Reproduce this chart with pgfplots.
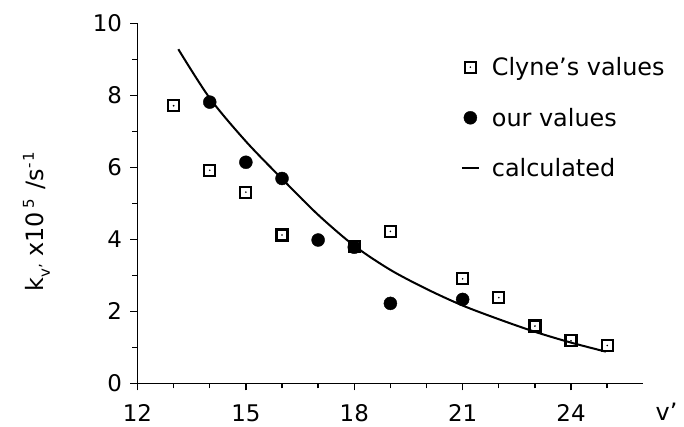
\documentclass[border=0pt]{standalone}
\usepackage{fontspec}
\setmainfont{DejaVu Sans}
\usepackage{pgfplots}
\pgfplotsset{compat=1.18}

\pgfdeclareplotmark{dotsquare}{%
  \pgfpathrectangle{\pgfqpoint{-\pgfplotmarksize}{-\pgfplotmarksize}}{\pgfqpoint{2\pgfplotmarksize}{2\pgfplotmarksize}}%
  \pgfusepathqstroke
  \pgfpathcircle{\pgfpointorigin}{0.9bp}%
  \pgfusepathqfill}

\newcommand{\smalltxt}[1]{{\fontsize{15}{17}\selectfont #1}}

\begin{document}
\begin{tikzpicture}
\begin{axis}[
  scale only axis, width=505.8bp, height=360bp,
  xmin=12, xmax=26, ymin=0, ymax=10,
  axis lines=left, axis line style={line width=1.6bp, -},
  xtick={12,15,18,21,24}, minor xtick={13,14,16,17,19,20,22,23,25},
  ytick={0,2,4,6,8,10}, minor ytick={1,3,5,7,9},
  tick align=outside, major tick length=7bp, minor tick length=5bp,
  every tick/.style={line width=1.4bp, black},
  ticklabel style={font=\fontsize{23}{27}\selectfont},
  xticklabel style={yshift=-11bp},
  yticklabel style={xshift=-5bp},
  /pgf/number format/assume math mode=true,
  clip=false,
  xlabel={v'},
  xlabel style={font=\fontsize{24}{28}\selectfont, at={(axis description cs:1.046,-0.103)}, anchor=base, inner sep=0pt},
  ylabel={k\raisebox{-6bp}{\smalltxt{v'}}\hspace{7bp}x10\hspace{3bp}\raisebox{10bp}{\smalltxt{5}}\hspace{10bp}/s\raisebox{10bp}{\smalltxt{-\,1}}},
  ylabel style={font=\fontsize{24}{28}\selectfont, at={(axis description cs:-0.2,0.45)}, anchor=center},
  legend style={at={(axis description cs:0.633,0.92)}, anchor=north west, draw=none, fill=none,
    font=\fontsize{24}{28}\selectfont, row sep=25bp, nodes={inner sep=3bp},
    /tikz/every odd column/.append style={column sep=9bp}},
  legend cell align=left,
]
\coordinate (bbsw) at (rel axis cs:0,0);
\coordinate (bbne) at (rel axis cs:1,1);
\addplot[only marks, mark=dotsquare, mark size=5.5bp, mark options={line width=2.2bp, black, fill=black}]
  coordinates {(13,7.71) (14,5.92) (15,5.31) (16,4.12) (18,3.8) (19,4.22) (21,2.9) (22,2.38) (23,1.59) (24,1.18) (25,1.05)};
\addlegendentry{Clyne's values}
\addplot[only marks, mark=*, mark size=6.5bp, black]
  coordinates {(14,7.81) (15,6.14) (16,5.69) (17,3.98) (18,3.78) (19,2.22) (21,2.33)};
\addlegendentry{our values}
\addplot[smooth, line width=2bp, black, mark=none]
  coordinates {(13.13,9.28) (14,7.92) (15,6.72) (16,5.68) (17,4.68) (18,3.82) (19,3.15) (20,2.62) (21,2.16) (22,1.78) (23,1.43) (24,1.13) (24.96,0.88)};
\addlegendentry{calculated}
\end{axis}
\pgfresetboundingbox
\path[use as bounding box] ([xshift=-137.5bp,yshift=-43.7bp]bbsw) rectangle ([xshift=40.7bp,yshift=23.3bp]bbne);
\end{tikzpicture}
\end{document}
